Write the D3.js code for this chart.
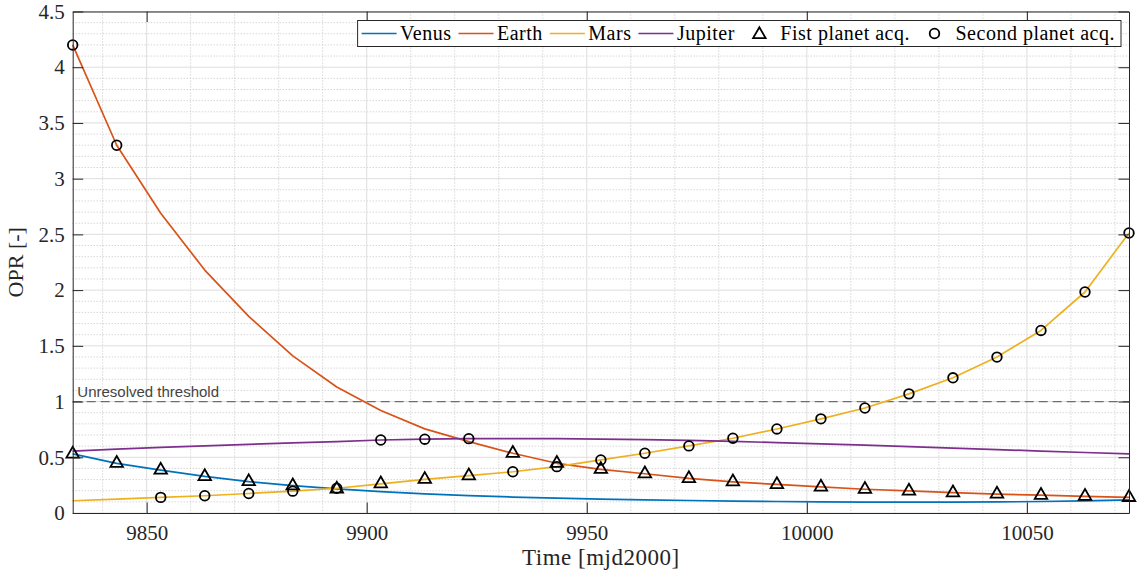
<!DOCTYPE html>
<html>
<head>
<meta charset="utf-8">
<script src="https://cdn.jsdelivr.net/npm/d3@7/dist/d3.min.js"></script>
<style>
  html, body { margin: 0; padding: 0; background: #fff; }
  svg { display: block; }
</style>
</head>
<body>
<svg id="chart" width="1138" height="581"></svg>
<script>
// Epochs (MJD2000) at which the OPR of each planet is evaluated
const times = [9833.2, 9843.2, 9853.2, 9863.2, 9873.2, 9883.2, 9893.2, 9903.2, 9913.2, 9923.2,
               9933.2, 9943.2, 9953.2, 9963.2, 9973.2, 9983.2, 9993.2, 10003.2, 10013.2, 10023.2,
               10033.2, 10043.2, 10053.2, 10063.2, 10073.2];

// OPR per planet
const venus   = [0.530, 0.446, 0.385, 0.328, 0.282, 0.245, 0.216, 0.192, 0.172, 0.156,
                 0.143, 0.133, 0.125, 0.118, 0.112, 0.107, 0.103, 0.100, 0.098, 0.097,
                 0.097, 0.099, 0.103, 0.109, 0.117];
const earth   = [4.200, 3.300, 2.690, 2.180, 1.764, 1.410, 1.130, 0.920, 0.755, 0.641,
                 0.536, 0.446, 0.392, 0.352, 0.310, 0.280, 0.256, 0.234, 0.213, 0.198,
                 0.182, 0.170, 0.160, 0.150, 0.140];
const mars    = [0.110, 0.125, 0.140, 0.155, 0.175, 0.196, 0.222, 0.262, 0.302, 0.335,
                 0.370, 0.416, 0.476, 0.536, 0.602, 0.671, 0.754, 0.845, 0.942, 1.069,
                 1.213, 1.399, 1.638, 1.983, 2.513];
const jupiter = [0.555, 0.573, 0.589, 0.603, 0.616, 0.629, 0.641, 0.655, 0.662, 0.667,
                 0.668, 0.667, 0.663, 0.658, 0.651, 0.642, 0.632, 0.621, 0.609, 0.596,
                 0.583, 0.569, 0.556, 0.543, 0.530];

// Which planet is acquired first / second at each epoch
const firstAcq  = ["Venus", "Venus", "Venus", "Venus", "Venus", "Venus", "Venus",
                   "Mars", "Mars", "Mars",
                   "Earth", "Earth", "Earth", "Earth", "Earth", "Earth", "Earth", "Earth",
                   "Earth", "Earth", "Earth", "Earth", "Earth", "Earth", "Earth"];
const secondAcq = ["Earth", "Earth",
                   "Mars", "Mars", "Mars", "Mars", "Mars",
                   "Jupiter", "Jupiter", "Jupiter",
                   "Mars", "Mars", "Mars", "Mars", "Mars", "Mars", "Mars", "Mars",
                   "Mars", "Mars", "Mars", "Mars", "Mars", "Mars", "Mars"];

const xTicks = [9850, 9900, 9950, 10000, 10050];
const yTicks = [0, 0.5, 1, 1.5, 2, 2.5, 3, 3.5, 4, 4.5];
const threshold = 1;

const series = [
  { name: "Venus",   values: venus,   color: "#0072BD" },
  { name: "Earth",   values: earth,   color: "#D95319" },
  { name: "Mars",    values: mars,    color: "#EDB120" },
  { name: "Jupiter", values: jupiter, color: "#7E2F8E" }
];
const byName = Object.fromEntries(series.map(s => [s.name, s]));

const serif = "'Liberation Serif', 'Times New Roman', serif";
const axisColor = "#262626";

const svg = d3.select("#chart");
const plot = { left: 72.7, right: 1129, top: 11.5, bottom: 513 };

const x = d3.scaleLinear()
  .domain([times[0], times[times.length - 1]])
  .range([plot.left, plot.right]);
const y = d3.scaleLinear()
  .domain([0, 4.5])
  .range([plot.bottom, plot.top]);

// ---- grid ----
const grid = svg.append("g");
const minorX = d3.range(9840, 10073, 10).filter(v => v % 50 !== 0);
const minorY = d3.range(1, 45).map(v => v / 10).filter(v => Math.round(v * 10) % 5 !== 0);

grid.selectAll(".mx").data(minorX).join("line")
  .attr("x1", d => x(d)).attr("x2", d => x(d))
  .attr("y1", plot.top).attr("y2", plot.bottom)
  .attr("stroke", "#c4c4c4").attr("stroke-width", 1).attr("stroke-dasharray", "1,2");
grid.selectAll(".my").data(minorY).join("line")
  .attr("x1", plot.left).attr("x2", plot.right)
  .attr("y1", d => y(d)).attr("y2", d => y(d))
  .attr("stroke", "#c4c4c4").attr("stroke-width", 1).attr("stroke-dasharray", "1,2");
grid.selectAll(".gx").data(xTicks).join("line")
  .attr("x1", d => x(d)).attr("x2", d => x(d))
  .attr("y1", plot.top).attr("y2", plot.bottom)
  .attr("stroke", "#dedede").attr("stroke-width", 1);
grid.selectAll(".gy").data(yTicks).join("line")
  .attr("x1", plot.left).attr("x2", plot.right)
  .attr("y1", d => y(d)).attr("y2", d => y(d))
  .attr("stroke", "#dedede").attr("stroke-width", 1);

// ---- threshold ----
svg.append("line")
  .attr("x1", plot.left).attr("x2", plot.right)
  .attr("y1", y(threshold)).attr("y2", y(threshold))
  .attr("stroke", "#6e6e6e").attr("stroke-width", 1.2)
  .attr("stroke-dasharray", "9,5");
svg.append("text")
  .attr("x", plot.left + 4.6).attr("y", y(threshold) - 4.5)
  .attr("font-family", "'Liberation Sans', Arial, sans-serif")
  .attr("font-size", 15).attr("fill", "#444")
  .text("Unresolved threshold");

// ---- series lines ----
const line = d3.line().x((d, i) => x(times[i])).y(d => y(d));
svg.append("g").selectAll("path").data(series).join("path")
  .attr("d", s => line(s.values))
  .attr("fill", "none")
  .attr("stroke", s => s.color)
  .attr("stroke-width", 1.7)
  .attr("stroke-linejoin", "round");

// ---- acquisition markers ----
const triSize = 68;
const circR = 4.8;
const markStroke = 1.8;
const tri = d3.symbol().type(d3.symbolTriangle).size(triSize);

svg.append("g").selectAll("circle").data(secondAcq).join("circle")
  .attr("cx", (p, i) => x(times[i]))
  .attr("cy", (p, i) => y(byName[p].values[i]))
  .attr("r", circR)
  .attr("fill", "none").attr("stroke", "#000").attr("stroke-width", markStroke);

svg.append("g").selectAll("path").data(firstAcq).join("path")
  .attr("d", tri)
  .attr("transform", (p, i) => `translate(${x(times[i])},${y(byName[p].values[i])})`)
  .attr("fill", "none").attr("stroke", "#000").attr("stroke-width", markStroke)
  .attr("stroke-linejoin", "miter");

// ---- axes ----
const tickLen = 10.5;
function styleAxis(g) {
  g.select(".domain").attr("stroke", axisColor).attr("stroke-width", 1);
  g.selectAll(".tick line").attr("stroke", axisColor).attr("stroke-width", 1);
  g.selectAll(".tick text").attr("fill", axisColor)
    .attr("font-family", serif).attr("font-size", 21);
}

svg.append("g").attr("transform", `translate(0,${plot.bottom})`)
  .call(d3.axisBottom(x).tickValues(xTicks).tickSize(-tickLen).tickSizeOuter(0)
    .tickPadding(12).tickFormat(d3.format("d")))
  .call(styleAxis);
svg.append("g").attr("transform", `translate(0,${plot.top})`)
  .call(d3.axisTop(x).tickValues(xTicks).tickSize(-tickLen).tickSizeOuter(0).tickFormat(""))
  .call(styleAxis);
svg.append("g").attr("transform", `translate(${plot.left},0)`)
  .call(d3.axisLeft(y).tickValues(yTicks).tickSize(-tickLen).tickSizeOuter(0)
    .tickPadding(8).tickFormat(d => String(d)))
  .call(styleAxis);
svg.append("g").attr("transform", `translate(${plot.right},0)`)
  .call(d3.axisRight(y).tickValues(yTicks).tickSize(-tickLen).tickSizeOuter(0).tickFormat(""))
  .call(styleAxis);

svg.selectAll(".domain").attr("fill", "none");

// ---- axis titles ----
svg.append("text")
  .attr("x", (plot.left + plot.right) / 2).attr("y", 565)
  .attr("text-anchor", "middle")
  .attr("font-family", serif).attr("font-size", 23).attr("fill", axisColor)
  .attr("letter-spacing", 0.5)
  .text("Time [mjd2000]");
svg.append("text")
  .attr("transform", `translate(22.5,${(plot.top + plot.bottom) / 2}) rotate(-90)`)
  .attr("text-anchor", "middle")
  .attr("font-family", serif).attr("font-size", 22).attr("fill", axisColor)
  .text("OPR [-]");

// ---- legend ----
const legendItems = [
  { label: "Venus",   kind: "line", color: byName.Venus.color },
  { label: "Earth",   kind: "line", color: byName.Earth.color },
  { label: "Mars",    kind: "line", color: byName.Mars.color },
  { label: "Jupiter", kind: "line", color: byName.Jupiter.color },
  { label: "Fist planet acq.",   kind: "tri" },
  { label: "Second planet acq.", kind: "circ" }
];
const legend = svg.append("g");
const box = legend.append("rect");
const iconW = 35, iconGap = 3.5, itemGap = 7, padL = 4, padR = 6;
const legH = 26, legTop = 20.5, legMid = legTop + legH / 2;
let cursor = padL;
const items = legend.append("g");
legendItems.forEach(it => {
  const g = items.append("g").attr("transform", `translate(${cursor},0)`);
  if (it.kind === "line") {
    g.append("line").attr("x1", 0).attr("x2", iconW)
      .attr("y1", legMid).attr("y2", legMid)
      .attr("stroke", it.color).attr("stroke-width", 1.7);
  } else if (it.kind === "tri") {
    g.append("path").attr("d", tri)
      .attr("transform", `translate(${iconW / 2},${legMid + 1})`)
      .attr("fill", "none").attr("stroke", "#000").attr("stroke-width", markStroke);
  } else {
    g.append("circle").attr("cx", iconW / 2).attr("cy", legMid).attr("r", circR)
      .attr("fill", "none").attr("stroke", "#000").attr("stroke-width", markStroke);
  }
  const t = g.append("text").attr("x", iconW + iconGap).attr("y", legMid + 6.5)
    .attr("font-family", serif).attr("font-size", 20).attr("fill", "#000")
    .attr("letter-spacing", 0.5)
    .text(it.label);
  cursor += iconW + iconGap + t.node().getComputedTextLength() + itemGap;
});
const legW = cursor - itemGap + padR;
const legLeft = plot.right - 8 - legW;
items.attr("transform", `translate(${legLeft},0)`);
box.attr("x", legLeft).attr("y", legTop).attr("width", legW).attr("height", legH)
  .attr("fill", "#fff").attr("stroke", axisColor).attr("stroke-width", 1);
</script>
</body>
</html>
